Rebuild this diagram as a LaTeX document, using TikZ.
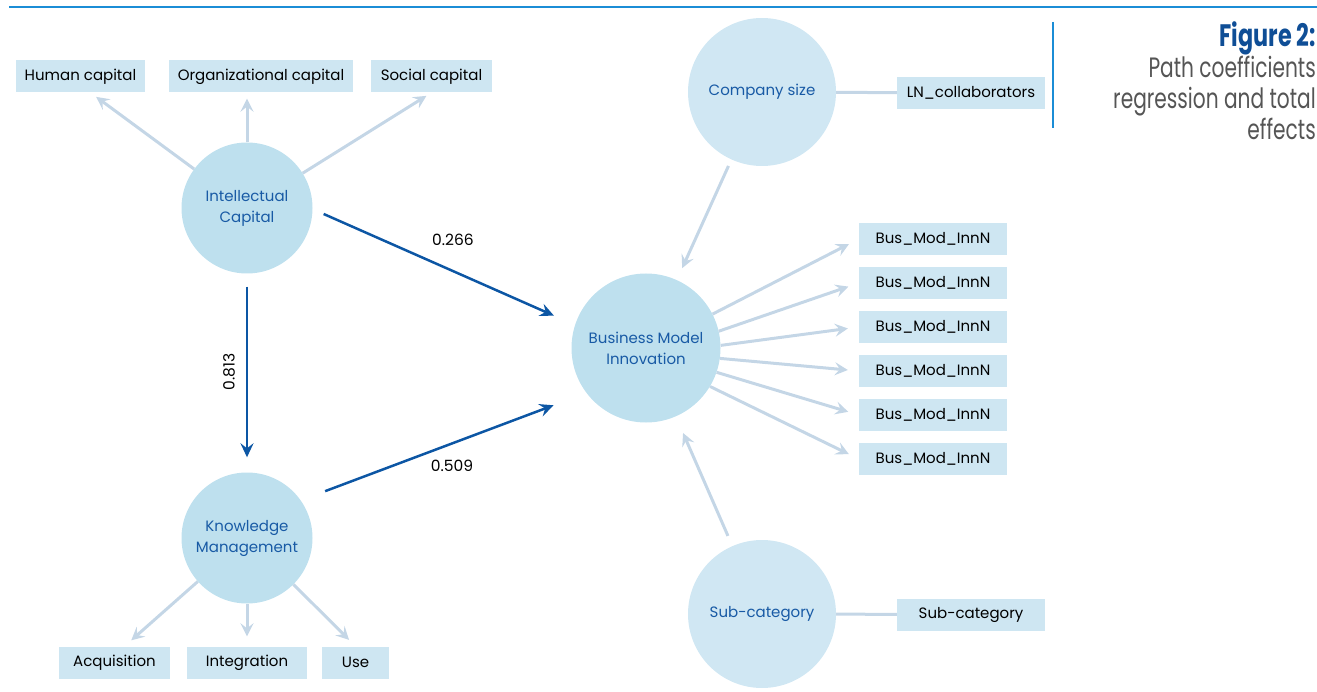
\documentclass[tikz,border=0pt]{standalone}
\usepackage{fontspec}
\setmainfont{Poppins}
\newfontfamily\titlefont[FakeStretch=0.72]{Poppins}
\usepackage{tikz}
\usetikzlibrary{positioning}
\usetikzlibrary{arrows.meta}

\definecolor{rulecol}{RGB}{27,141,214}
\definecolor{pathcol}{RGB}{12,86,164}
\definecolor{loadcol}{RGB}{196,214,230}
\definecolor{latentfill}{RGB}{190,224,238}
\definecolor{controlfill}{RGB}{208,231,243}
\definecolor{boxfill}{RGB}{206,230,242}
\definecolor{latenttext}{RGB}{24,90,165}
\definecolor{titleblue}{RGB}{15,78,150}
\definecolor{titlegray}{RGB}{85,85,85}

\begin{document}
\begin{tikzpicture}[x=1pt,y=-1pt]

 \tikzset{latent/.style={
 		circle,
 		fill=latentfill,
 		minimum size=#1,
 		inner sep=0pt,
 		align=center,
 		text=latenttext,
 		font=\fontsize{15}{21}\selectfont
 	},
 	latent/.default=131pt,
 	control/.style={latent=148pt, fill=controlfill},
 	indicator/.style={
 		fill=boxfill,
 		minimum height=32pt,
 		minimum width=#1,
 		inner sep=0pt,
 		font=\fontsize{15}{17}\selectfont
 	},
 	indicator/.default=148pt,
 	loading/.style={draw=loadcol, line width=3pt,
 		-{Stealth[length=13pt,width=13pt,inset=5pt]}},
 	path coef/.style={draw=pathcol, line width=2.5pt,
 		-{Stealth[length=14pt,width=13pt,inset=5pt]}},
 	coef/.style={font=\fontsize{15.5}{17}\selectfont}
 }
 \useasboundingbox (0,0) rectangle (1317,692);

 % header rule and caption
 \draw[rulecol, line width=2pt] (9,7) -- (1317,7);
 \draw[rulecol, line width=2pt] (1053,22) -- (1053,128);
 \node[anchor=north east, align=right, inner sep=0pt, text=titlegray,
 	font=\titlefont\fontsize{28}{31}\selectfont] (caption) at (1316,21)
 	{{\fontsize{31}{31}\selectfont\bfseries\color{titleblue}Figure 2:}\\
 	 Path coefficients\\ regression and total\\ effects};

 % latent variables
 \node[latent] (ic) at (247,208) {Intellectual\\Capital};
 \node[latent] (km) at (247,538) {Knowledge\\Management};
 \node[latent=149pt] (bmi) at (646,348) {Business Model\\Innovation};
 \node[control] (cs) at (762,92) {Company size};
 \node[control] (sc) at (762,614) {Sub-category};

 % indicators
 \node[indicator=129pt] (human) at (80.5,76.5) {Human capital};
 \node[indicator=184pt] (org) at (261,76.5) {Organizational capital};
 \node[indicator=121pt] (social) at (431.5,76.5) {Social capital};
 \node[indicator=111pt] (acq) at (114.5,662.5) {Acquisition};
 \node[indicator=120pt] (integ) at (247,662.5) {Integration};
 \node[indicator=67pt] (use) at (355.5,662.5) {Use};
 \node[indicator] (ln) at (971,93) {LN\_collaborators};
 \node[indicator] (subbox) at (971,614.5) {Sub-category};
 \node[indicator] (bus1) at (933,239) {Bus\_Mod\_InnN};
 \node[indicator, below=11.6pt of bus1] (bus2) {Bus\_Mod\_InnN};
 \node[indicator, below=11.6pt of bus2] (bus3) {Bus\_Mod\_InnN};
 \node[indicator, below=11.6pt of bus3] (bus4) {Bus\_Mod\_InnN};
 \node[indicator, below=11.6pt of bus4] (bus5) {Bus\_Mod\_InnN};
 \node[indicator, below=11.6pt of bus5] (bus6) {Bus\_Mod\_InnN};

 % loadings
 \draw[loading, shorten >=7pt] (ic) -- ([xshift=10pt]human.south);
 \draw[loading, shorten >=6pt] (ic) -- (ic |- org.south);
 \draw[loading, shorten >=6pt] (ic) -- (social.south);
 \draw[loading, shorten >=9pt] (km) -- ([xshift=10pt]acq.north);
 \draw[loading, shorten >=10pt] (km) -- (integ);
 \draw[loading, shorten >=9pt] (km) -- (use.north);
 \draw[loading, shorten >=11pt] (bmi.27) -- (bus1.west);
 \draw[loading, shorten >=11pt] (bmi.13) -- (bus2.west);
 \draw[loading, shorten >=11pt] (bmi.2) -- (bus3.west);
 \draw[loading, shorten >=11pt] (bmi.-8) -- (bus4.west);
 \draw[loading, shorten >=11pt] (bmi.-19) -- (bus5.west);
 \draw[loading, shorten >=11pt] (bmi.-31) -- (bus6.west);
 \draw[loadcol, line width=3pt] (cs) -- (ln);
 \draw[loadcol, line width=3pt] (sc) -- (subbox);

 % controls
 \draw[loading, shorten <=7pt, shorten >=13pt] (cs) -- (bmi);
 \draw[loading, shorten <=11pt, shorten >=18pt] (sc) -- (bmi);

 % path coefficients
 \draw[path coef, shorten <=12pt, shorten >=23pt] (ic.-1) -- (bmi.162);
 \draw[path coef, shorten <=26pt, shorten >=35pt] (km.35) -- (bmi.217);
 \draw[path coef, shorten <=13pt, shorten >=15pt] (ic) -- (km);
 \node[coef] (c266) at (453,240) {0.266};
 \node[coef] (c509) at (452,466) {0.509};
 \node[coef, rotate=90] (c813) at (229,372) {0.813};

\end{tikzpicture}
\end{document}
